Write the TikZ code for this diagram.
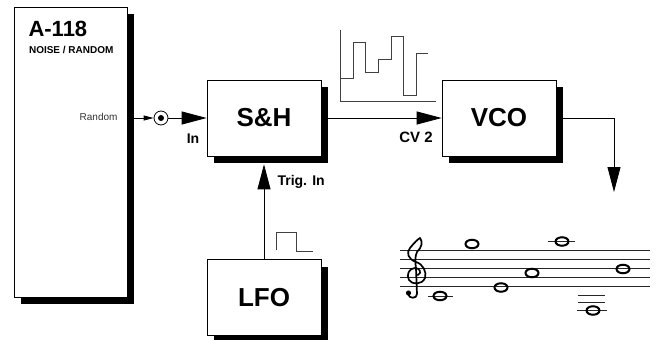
\documentclass[tikz,border=0pt]{standalone}
\usepackage{fontspec}
\setmainfont{Liberation Sans}
\usetikzlibrary{arrows.meta,shadows,shapes.geometric}
\begin{document}
\begin{tikzpicture}[x=1pt,y=-1pt,
  module/.style={draw,line width=0.7pt,fill=white,minimum width=114,minimum height=76,font=\bfseries\fontsize{26}{26}\selectfont,drop shadow={shadow xshift=7pt,shadow yshift=-7pt,fill=black,opacity=1}},
  panel/.style={module,minimum width=113,minimum height=290},
  bigarrow/.style={line width=0.8pt,-{Triangle[length=25pt,width=13pt]}},
  smallarrow/.style={line width=0.8pt,-{Triangle[length=10pt,width=5pt]}},
  lbl/.style={font=\bfseries\fontsize{14}{14}\selectfont},
  wave/.style={line width=1pt,black!75},
  staffline/.style={line width=0.8pt,black!85},
  clefline/.style={line width=1.7pt,line cap=round,line join=round},
  note/.style={shape=ellipse,draw,line width=2pt,minimum width=13,minimum height=8.5,inner sep=0pt}]
\useasboundingbox (0,0) rectangle (659,340);

% module and blocks
\node[panel] (mod) at (70.5,152) {};
\node[anchor=base west,font=\bfseries\fontsize{22}{22}\selectfont] (modname) at (25,36.5) {A-118};
\node[anchor=base west,font=\bfseries\fontsize{10}{10}\selectfont] (modsub) at (25.5,53) {NOISE / RANDOM};
\node[anchor=east,font=\fontsize{10}{10}\selectfont,black!80] (rnd) at (121,117) {Random};

\node[module] (SH) at (264,118) {S\&H};
\node[module] (VCO) at (499,118) {VCO};
\node[module] (LFO) at (264,297.5) {LFO};

\node[draw,circle,line width=0.8pt,minimum size=14,inner sep=0pt] (jack) at (161,118) {};
\fill (jack.center) circle (3);

% connectors
\draw[smallarrow] (mod.east |- jack) -- (jack);
\draw[bigarrow] (jack) -- (SH.west);
\node[lbl] (inlbl) at (193,139) {In};
\draw[bigarrow] (SH.east) -- (VCO.west);
\node[lbl,font=\bfseries\fontsize{15}{15}\selectfont] (cvlbl) at (416,137) {CV 2};
\draw[bigarrow,shorten >=8pt] (LFO.north) -- (SH.south);
\node[lbl,anchor=west] (triglbl) at (274,182) {Trig. In};
\coordinate (out) at (614,192);
\draw[bigarrow] (VCO.east) -| (out);

% random steps
\draw[wave] (340,30) -- (340,101) -- (436,101);
\draw[wave] (340,78) -- (353,78) -- (353,42) -- (365,42) -- (365,72) -- (378,72) -- (378,59) -- (391,59) -- (391,36) -- (403,36) -- (403,95) -- (416,95) -- (416,53) -- (428,53);

% trigger pulse
\draw[wave] (276,250) -- (276,232) -- (296,232) -- (296,251) -- (313,251);

% staff
\foreach \i in {0,...,4}
  \draw[staffline] (400,250+9.2*\i) -- (650,250+9.2*\i);

% treble clef
\begin{scope}[shift={(414,268)}]
\draw[clefline] (4,7) .. controls (8,5) and (6,0) .. (1,0)
  .. controls (-5,0) and (-8,7) .. (-5,12)
  .. controls (-2,17) and (8,17) .. (11,10)
  .. controls (13,4) and (9,-4) .. (2,-6)
  .. controls (-6,-9) and (-8,-15) .. (-4,-20)
  .. controls (0,-25) and (4,-29) .. (6,-30)
  .. controls (9,-26) and (8,-21) .. (3,-16)
  .. controls (1,-12) and (1,-6) .. (2,0)
  -- (3,26)
  .. controls (3,31) and (-5,31) .. (-6,26);
\fill (-5.5,25) circle (2.6);
\end{scope}

\draw[staffline] (428,296) -- (453,296);
\draw[staffline] (548,241) -- (575,241);
\draw[staffline] (578,295.5) -- (605,295.5);
\draw[staffline] (578,302.5) -- (605,302.5);
\draw[staffline] (577,310) -- (607,310);

\node[note] (n1) at (440,296) {};
\node[note] (n2) at (472,244) {};
\node[note] (n3) at (501,287.5) {};
\node[note] (n4) at (532,273) {};
\node[note] (n5) at (562,241.5) {};
\node[note] (n6) at (593,310.5) {};
\node[note] (n7) at (623,269) {};
\end{tikzpicture}
\end{document}
